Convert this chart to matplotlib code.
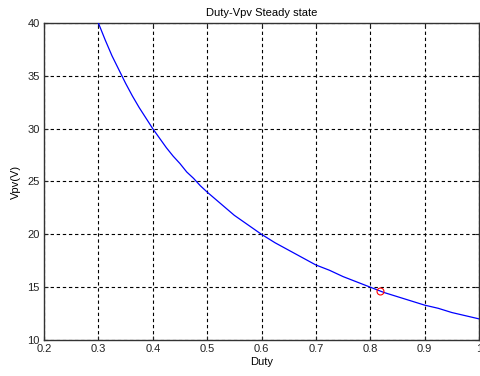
import matplotlib
matplotlib.use("Agg")
import matplotlib.pyplot as plt

# ── Data ──────────────────────────────────────────────────────────────────────
duty = [0.3000, 0.3125, 0.3250, 0.3375, 0.3500, 0.3625, 0.3750, 0.3875,
        0.4000, 0.4125, 0.4250, 0.4375, 0.4500, 0.4625, 0.4750, 0.4875,
        0.500, 0.525, 0.550, 0.575, 0.600, 0.625, 0.650, 0.675, 0.700,
        0.725, 0.750, 0.775, 0.800, 0.825, 0.850, 0.875, 0.900, 0.925,
        0.950, 0.975, 1.000]
vpv = [40.0, 38.4, 36.9, 35.6, 34.3, 33.1, 32.0, 31.0,
       30.0, 29.1, 28.2, 27.4, 26.7, 25.9, 25.3, 24.6,
       24.0, 22.9, 21.8, 20.9, 20.0, 19.2, 18.5, 17.8, 17.1,
       16.6, 16.0, 15.5, 15.0, 14.5, 14.1, 13.7, 13.3, 13.0,
       12.6, 12.3, 12.0]
op_duty = [0.818]
op_vpv = [14.66]

xticks = [0.2, 0.3, 0.4, 0.5, 0.6, 0.7, 0.8, 0.9, 1.0]
xticklabels = ["0.2", "0.3", "0.4", "0.5", "0.6", "0.7", "0.8", "0.9", "1"]
yticks = [10, 15, 20, 25, 30, 35, 40]

plt.rcParams["font.family"] = ["Liberation Sans", "DejaVu Sans"]

fig = plt.figure(figsize=(4.8, 3.76), dpi=100)
ax = fig.add_axes([44 / 480, 36 / 376, 435 / 480, 317 / 376])

ax.plot(duty, vpv, color="#0000ff", linewidth=0.9, zorder=3)
ax.plot(op_duty, op_vpv, "o", mfc="none", mec="#ff0000", ms=5, mew=0.8, zorder=4)

ax.set_xlim(0.2, 1.0)
ax.set_ylim(10, 40)
ax.set_xticks(xticks)
ax.set_xticklabels(xticklabels)
ax.set_yticks(yticks)

ax.grid(True, color="black", linestyle=(0, (3, 2.5)), linewidth=0.8)
ax.tick_params(direction="in", length=3, labelsize=8, top=True, right=True,
               colors="#222222", pad=3)
for sp in ax.spines.values():
    sp.set_linewidth(1.0)
    sp.set_color("#333333")

ax.set_title("Duty-Vpv Steady state", fontsize=8, pad=5)
ax.set_xlabel("Duty", fontsize=8, labelpad=2)
ax.set_ylabel("Vpv(V)", fontsize=8, labelpad=5)

fig.savefig("out.png", dpi=100)
